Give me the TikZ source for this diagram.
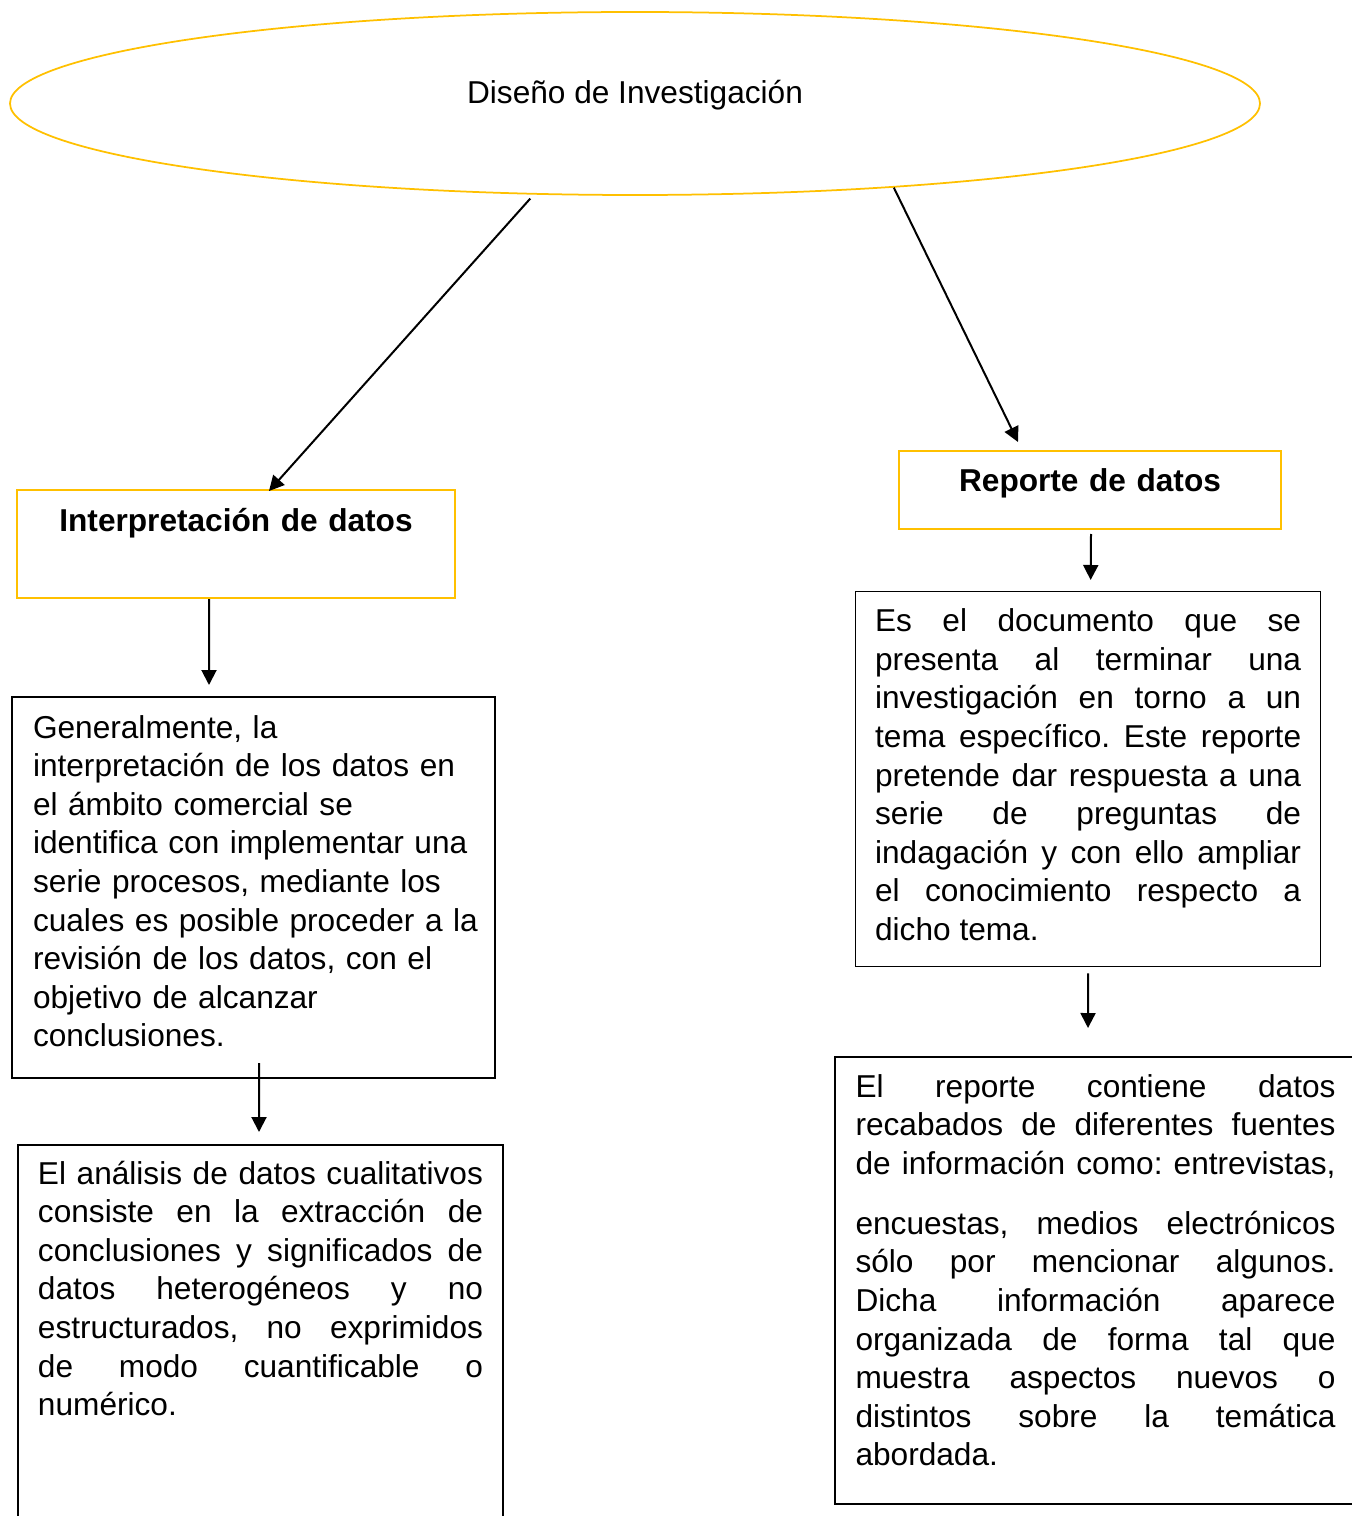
\documentclass[tikz,border=0pt]{standalone}
\usepackage{fontspec}
\setmainfont{Liberation Sans}
\usetikzlibrary{
    shapes.geometric,
    arrows.meta,
    positioning
}
\definecolor{wordgold}{RGB}{255, 192, 0}
\tolerance=10000
\hyphenpenalty=10000
\hbadness=10000

\begin{document}
\frenchspacing
\begin{tikzpicture}[
        font=\fontsize{18}{21.97}\selectfont,
        goldbox/.style={draw=wordgold, line width=0.04cm, inner sep=0pt, anchor=north west, align=center, font=\fontsize{18}{21.97}\selectfont\bfseries},
        textbox/.style={draw, line width=0.04cm, inner ysep=0pt, anchor=north west},
        arrow/.style={-{Triangle[length=0.3cm, width=0.3cm]}, line width=0.04cm}
    ]
        \useasboundingbox (0,0) rectangle (27.02,-30.32);

        % Top
        \node[ellipse, draw=wordgold, line width=0.035cm, minimum width=25cm, minimum height=3.66cm, inner sep=0pt, text height=6pt, text depth=6pt] (diseno) at (12.7, -2.07) {Diseño de Investigación};

        % Left side
        \node[goldbox, text width=8.76cm, text height=0.82cm, text depth=1.34cm] (interp) at (0.32, -9.78) {Interpretación de datos};

        \node[textbox, inner xsep=0.42cm, text width=8.82cm, align=left, text height=0.82cm, text depth=6.8cm] (gen) at (0.22, -13.92) {
            Generalmente, la\\
            interpretación de los datos en\\
            el ámbito comercial se\\
            identifica con implementar una\\
            serie procesos, mediante los\\
            \mbox{cuales es posible proceder a la}\\
            revisión de los datos, con el\\
            objetivo de alcanzar\\
            conclusiones.
        };

        \node[textbox, inner xsep=0.4cm, text width=8.9cm, align=justify, text height=0.78cm, text depth=6.94cm] (ana) at (0.34, -22.88) {
            El análisis de datos cualitativos\linebreak
            consiste en la extracción de\linebreak
            conclusiones y significados de\linebreak
            datos heterogéneos y no\linebreak
            estructurados, no exprimidos\linebreak
            de modo cuantificable o\linebreak
            numérico.
        };

        % Right side
        \node[goldbox, text width=7.64cm, text height=0.8cm, text depth=0.76cm] (rep) at (17.96, -9.0) {Reporte de datos};

        \node[textbox, line width=0.025cm, inner xsep=0.39cm, text width=8.52cm, align=justify, text height=0.8cm, text depth=6.7cm] (doc) at (17.1, -11.82) {
            Es el documento que se\linebreak
            presenta al terminar una\linebreak
            investigación en torno a un\linebreak
            tema específico. Este reporte\linebreak
            pretende dar respuesta a una\linebreak
            serie de preguntas de\linebreak
            indagación y con ello ampliar\linebreak
            el conocimiento respecto a\linebreak
            dicho tema.
        };

        \node[textbox, inner xsep=0.41cm, text width=9.6cm, align=justify, text height=0.8cm, text depth=8.14cm] (rept) at (16.68, -21.12) {
            El reporte contiene datos\linebreak
            recabados de diferentes fuentes\linebreak
            de información como: entrevistas,\vspace{0.43cm}\linebreak
            encuestas, medios electrónicos\linebreak
            sólo por mencionar algunos.\linebreak
            Dicha información aparece\linebreak
            organizada de forma tal que\linebreak
            muestra aspectos nuevos o\linebreak
            distintos sobre la temática\linebreak
            abordada.
        };

        % Arrows
        \draw[arrow] ([yshift=-0.08cm]diseno.221) -- ([xshift=0.66cm, yshift=-0.04cm]interp.north);
        \draw[arrow] (diseno.342) -- ([xshift=-1.44cm, yshift=0.16cm]rep.north);
        \draw[arrow] ([xshift=-0.54cm]interp.south) -- ([xshift=-0.89cm, yshift=0.22cm]gen.north);
        \draw[arrow] ([xshift=0.11cm, yshift=0.32cm]gen.south) -- ([xshift=-0.03cm, yshift=0.24cm]ana.north);
        \draw[arrow] ([xshift=0.02cm, yshift=-0.08cm]rep.south) -- ([xshift=0.05cm, yshift=0.22cm]doc.north);
        \draw[arrow] ([yshift=-0.12cm]doc.south) -- ([xshift=-0.15cm, yshift=0.56cm]rept.north);
    \end{tikzpicture}
\end{document}
